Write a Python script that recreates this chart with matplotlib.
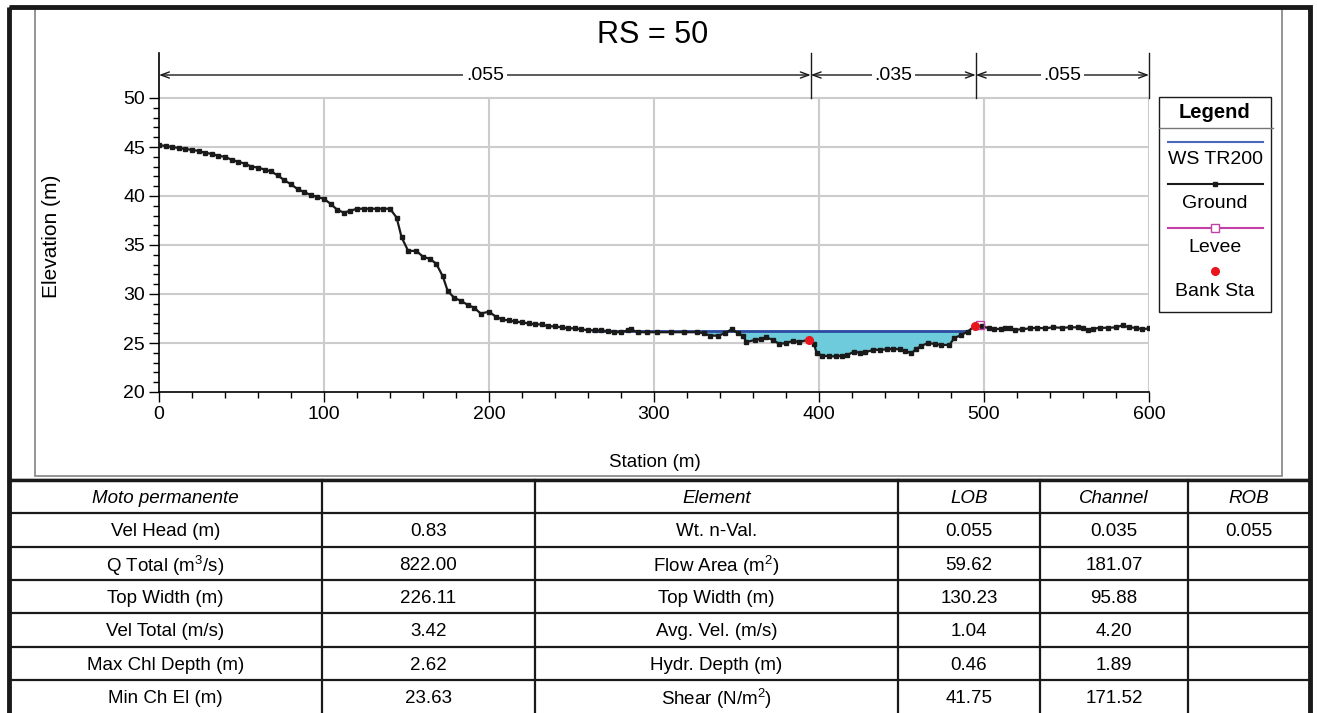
import matplotlib
matplotlib.use('Agg')
import matplotlib.pyplot as plt
from matplotlib.patches import Rectangle

plt.rcParams['font.family'] = ['Liberation Sans', 'DejaVu Sans']
plt.rcParams['mathtext.fontset'] = 'custom'
plt.rcParams['mathtext.rm'] = 'Liberation Sans'
plt.rcParams['mathtext.it'] = 'Liberation Sans:italic'
NARROW = ['Liberation Sans Narrow', 'Liberation Sans', 'DejaVu Sans']

# ground profile
station = [0, 4, 8, 12, 16, 20, 24, 28, 32, 36, 40, 44, 48, 52, 56, 60, 64, 68, 72, 76,
           80, 84, 88, 92, 96, 100, 104, 108, 112, 116, 120, 124, 128, 132, 136, 140, 144, 147, 151, 156,
           160, 164, 168, 172, 175, 179, 183, 187, 191, 195, 200, 204, 208, 212, 216, 220, 224, 228, 232, 236,
           240, 244, 248, 252, 256, 260, 264, 268, 272, 276, 280, 284, 286, 290, 296, 302, 310, 318, 326, 330,
           334, 339, 343, 347, 351, 354, 356, 361, 365, 368, 372, 376, 380, 384, 388, 394, 397, 398.5, 402, 406,
           410, 414, 417, 421, 425, 428, 433, 437, 441, 445, 449, 452, 456, 459, 462, 466, 470, 474, 479, 482,
           486, 490, 494.5, 499, 503, 506, 510, 513, 516, 519, 523, 528, 532, 537, 542, 547, 552, 557, 560, 563,
           566, 570, 575, 580, 584, 588, 592, 596, 600]
elevation = [45.2, 45.1, 45.0, 44.9, 44.8, 44.7, 44.6, 44.4, 44.3, 44.1, 44.0, 43.7, 43.5, 43.3, 43.0, 42.9, 42.7, 42.5, 42.1, 41.6,
             41.2, 40.7, 40.4, 40.1, 39.9, 39.7, 39.2, 38.6, 38.3, 38.5, 38.7, 38.7, 38.7, 38.7, 38.7, 38.7, 37.8, 35.8, 34.4, 34.4,
             33.8, 33.6, 33.1, 31.8, 30.3, 29.6, 29.3, 28.9, 28.6, 28.0, 28.2, 27.7, 27.4, 27.3, 27.2, 27.1, 27.0, 26.9, 26.9, 26.7,
             26.7, 26.6, 26.5, 26.5, 26.4, 26.3, 26.3, 26.3, 26.2, 26.1, 26.1, 26.3, 26.4, 26.1, 26.1, 26.1, 26.1, 26.1, 26.1, 26.0,
             25.75, 25.75, 26.0, 26.4, 26.0, 25.7, 25.1, 25.3, 25.4, 25.6, 25.3, 24.9, 25.0, 25.2, 25.1, 25.35, 24.9, 24.0, 23.7, 23.65,
             23.63, 23.7, 23.75, 24.1, 24.0, 24.05, 24.3, 24.3, 24.35, 24.4, 24.35, 24.2, 23.95, 24.4, 24.7, 25.0, 24.9, 24.8, 24.8, 25.5,
             25.8, 26.15, 26.75, 26.7, 26.5, 26.4, 26.45, 26.55, 26.5, 26.35, 26.4, 26.5, 26.55, 26.5, 26.6, 26.55, 26.6, 26.6, 26.5, 26.3,
             26.45, 26.55, 26.55, 26.6, 26.8, 26.6, 26.55, 26.4, 26.5]

ws_elev = 26.27
ws_start, ws_end = 263, 491
bank_sta = [394, 494.5]
bank_elev = [25.35, 26.75]
levee_sta = [497.5]
levee_elev = [26.8]

n_bounds = [0, 395, 495, 600]
n_values = ['.055', '.035', '.055']

# table
head_left = 'Moto permanente'
left_labels = ['Vel Head (m)', 'Q Total (m$^3$/s)', 'Top Width (m)', 'Vel Total (m/s)', 'Max Chl Depth (m)', 'Min Ch El (m)']
left_vals = ['0.83', '822.00', '226.11', '3.42', '2.62', '23.63']
head_right = ['Element', 'LOB', 'Channel', 'ROB']
elements = ['Wt. n-Val.', 'Flow Area (m$^2$)', 'Top Width (m)', 'Avg. Vel. (m/s)', 'Hydr. Depth (m)', 'Shear (N/m$^2$)']
lob = ['0.055', '59.62', '130.23', '1.04', '0.46', '41.75']
channel = ['0.035', '181.07', '95.88', '4.20', '1.89', '171.52']
rob = ['0.055', '', '', '', '', '']

W, H = 1317, 713
fig = plt.figure(figsize=(W / 100, H / 100), dpi=100)

# overlay in pixel coordinates for frames, legend and table
ov = fig.add_axes([0, 0, 1, 1])
ov.set_xlim(0, W)
ov.set_ylim(H, 0)
ov.axis('off')
ov.patch.set_alpha(0)

ov.add_patch(Rectangle((35, 7), 1282 - 35, 476 - 7, fill=False, ec='#8c8c8c', lw=1.3))
ov.add_patch(Rectangle((9, 7), 1301, 720, fill=False, ec='#1a1a1a', lw=3.5))

ax = fig.add_axes([159 / W, (H - 392) / H, 990 / W, 339 / H])
ax.set_xlim(0, 600)
ax.set_ylim(20, 20 + 339 / 9.8)
for s in ['top', 'right']:
    ax.spines[s].set_visible(False)
for s in ['left', 'bottom']:
    ax.spines[s].set_linewidth(1.2)

for x in range(100, 601, 100):
    ax.plot([x, x], [20, 50], color='#cccccc', lw=1.5, zorder=0)
for y in range(25, 51, 5):
    ax.plot([0, 600], [y, y], color='#cccccc', lw=1.5, zorder=0)

ax.set_xticks(range(0, 601, 100))
ax.set_xticks(range(0, 601, 20), minor=True)
ax.set_yticks(range(20, 51, 5))
ax.set_yticks(range(20, 51, 1), minor=True)
ax.tick_params(which='major', length=7, width=1, labelsize=14, pad=3)
ax.tick_params(which='minor', length=4, width=1)
for lab in ax.get_xticklabels() + ax.get_yticklabels():
    lab.set_family(NARROW)

ax.fill_between(station, elevation, ws_elev, where=[ws_start <= s <= ws_end and e < ws_elev
                                                    for s, e in zip(station, elevation)],
                interpolate=True, color='#6ecbdb', lw=0, zorder=2)
ax.plot([ws_start, ws_end], [ws_elev, ws_elev], color='#2c4aa0', lw=2, zorder=3)
ax.plot(station, elevation, color='#1a1a1a', lw=1.6, marker='s', ms=3.4, zorder=4)
ax.plot(levee_sta, levee_elev, ls='none', marker='s', ms=6, mfc='none', mec='#c040a8', mew=1, zorder=5)
ax.plot(bank_sta, bank_elev, ls='none', marker='o', ms=5.5, color='#e8141e', zorder=6)

y_arr = 20 + (392 - 75) / 9.8
for b in n_bounds[1:]:
    ax.plot([b, b], [50, 20 + 339 / 9.8], color='#1a1a1a', lw=1, clip_on=False)
for i, n in enumerate(n_values):
    a, b = n_bounds[i], n_bounds[i + 1]
    ax.annotate('', xy=(a, y_arr), xytext=(b, y_arr),
                arrowprops=dict(arrowstyle='<->,head_length=0.6,head_width=0.22', lw=1, color='#1a1a1a',
                                shrinkA=0, shrinkB=0), annotation_clip=False)
    ax.text((a + b) / 2, y_arr, n, ha='center', va='center', fontsize=14, family=NARROW,
            bbox=dict(fc='white', ec='none', pad=2), zorder=5)

ax.set_xlabel('Station (m)', fontsize=13.5, family=NARROW)
ax.xaxis.set_label_coords(0.501, -0.182)
ax.set_ylabel('Elevation (m)', fontsize=15)
ax.yaxis.set_label_coords(-0.0985, 0.46)

fig.text(653 / W, 1 - 35 / H, 'RS = 50', ha='center', va='center', fontsize=22)

# legend
ov.add_patch(Rectangle((1159, 97), 112, 215, fill=False, ec='#1a1a1a', lw=1))
ov.plot([1159, 1273], [128, 128], color='#777777', lw=1)
ov.text(1215, 112, 'Legend', ha='center', va='center', fontsize=14.5, weight='bold', family=NARROW)
ov.plot([1168, 1263], [142, 142], color='#4a68c0', lw=1.5)
ov.text(1215, 160, 'WS TR200', ha='center', va='center', fontsize=14, family=NARROW)
ov.plot([1168, 1263], [184, 184], color='#1a1a1a', lw=1.5)
ov.plot([1215], [184], marker='s', ms=3, color='#1a1a1a')
ov.text(1215, 204, 'Ground', ha='center', va='center', fontsize=14, family=NARROW)
ov.plot([1168, 1263], [228, 228], color='#c040a8', lw=1.5)
ov.plot([1215], [228], marker='s', ms=6, mfc='white', mec='#c040a8', mew=1)
ov.text(1215, 247, 'Levee', ha='center', va='center', fontsize=14, family=NARROW)
ov.plot([1215], [271], marker='o', ms=5.5, color='#e8141e')
ov.text(1215, 291, 'Bank Sta', ha='center', va='center', fontsize=14, family=NARROW)

# table
cols = [9, 322, 535, 898, 1040, 1188, 1310]
rows = [480, 513, 547, 580, 613, 647, 680, 713]
for y in rows[:-1]:
    ov.plot([9, 1310], [y, y], color='#1a1a1a', lw=1.6)
ov.plot([9, 1310], [480, 480], color='#1a1a1a', lw=2.5)
for x in cols[1:-1]:
    ov.plot([x, x], [480, 713], color='#1a1a1a', lw=1.6)

def cell(ci, ri, txt, style='normal'):
    xc = (cols[ci] + cols[ci + 1]) / 2
    yc = (rows[ri] + rows[ri + 1]) / 2 + 2
    ov.text(xc, yc, txt, ha='center', va='center', fontsize=13.5, style=style)

cell(0, 0, head_left, 'italic')
for j, h in enumerate(head_right):
    cell(2 + j, 0, h, 'italic')
for i in range(6):
    cell(0, i + 1, left_labels[i])
    cell(1, i + 1, left_vals[i])
    cell(2, i + 1, elements[i])
    cell(3, i + 1, lob[i])
    cell(4, i + 1, channel[i])
    cell(5, i + 1, rob[i])

fig.savefig('out.png', dpi=100)
